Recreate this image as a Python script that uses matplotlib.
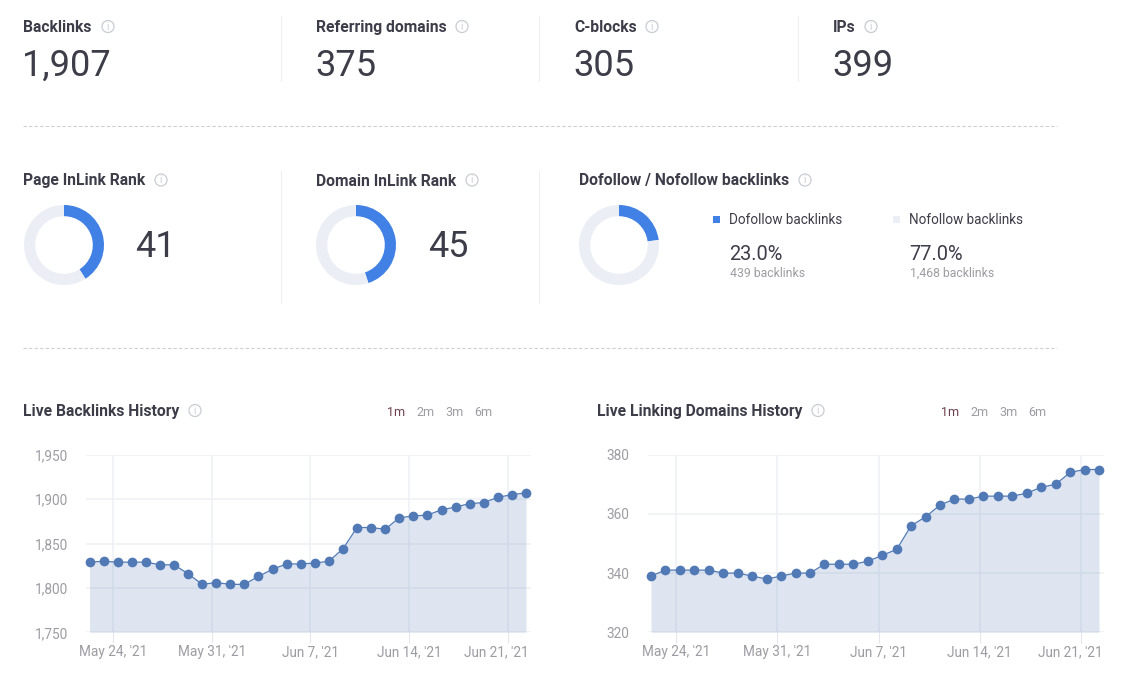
'''dashboard with backlink stats, rank donuts and two history charts
'''
import matplotlib
matplotlib.use('Agg')
import matplotlib.pyplot as plt
from matplotlib.patches import Circle, Rectangle
from matplotlib.ticker import FuncFormatter
from matplotlib.transforms import ScaledTranslation

W, H = 1123, 678
DARK = '#3d3d4a'
GRAY = '#9c9ca3'
ICON = '#c9ccd3'
BLUE = '#4180e4'
PALE = '#ebeef4'
LINE = '#5079b5'
GRID = '#eff0f4'

stat_labels = ['Backlinks', 'Referring domains', 'C-blocks', 'IPs']
stat_values = ['1,907', '375', '305', '399']

page_rank = [41, 59]
domain_rank = [45, 55]
follow_share = [23.0, 77.0]
follow_names = ['Dofollow backlinks', 'Nofollow backlinks']
follow_counts = ['439 backlinks', '1,468 backlinks']

# days counted from May 22, one point a day
days = list(range(32))
tick_days = [2, 9, 16, 23, 30]
tick_labels = ["May 24, '21", "May 31, '21", "Jun 7, '21", "Jun 14, '21", "Jun 21, '21"]
range_labels = ['1m', '2m', '3m', '6m']

backlinks = [1829, 1830, 1829, 1829, 1829, 1826, 1826, 1816, 1804, 1806, 1804,
             1804, 1813, 1821, 1827, 1827, 1828, 1830, 1844, 1868, 1868, 1866,
             1879, 1881, 1882, 1888, 1891, 1895, 1896, 1902, 1905, 1907]
domains = [339, 341, 341, 341, 341, 340, 340, 339, 338, 339, 340, 340, 343, 343,
           343, 344, 346, 348, 356, 359, 363, 365, 365, 366, 366, 366, 367, 369,
           370, 374, 375, 375]
backlinks_ticks = [1750, 1800, 1850, 1900, 1950]
domains_ticks = [320, 340, 360, 380]

plt.rcParams['font.family'] = ['Roboto', 'DejaVu Sans']

fig = plt.figure(figsize=(W / 100, H / 100), dpi=100)
page = fig.add_axes([0, 0, 1, 1])
page.set_xlim(0, W)
page.set_ylim(H, 0)
page.axis('off')


def label(x, y, s, px, color=DARK, weight='normal', ha='left'):
    page.text(x, y, s, fontsize=px * 0.72, color=color, fontweight=weight,
              ha=ha, va='center_baseline')


def title(x, y, s, icon_x):
    label(x, y, s, 15.6, weight='bold')
    page.add_patch(Circle((icon_x, y + 0.5), 6, fc='none', ec=ICON, lw=0.9))
    page.text(icon_x, y + 0.5, 'i', fontsize=7, color=ICON, ha='center', va='center')


def donut(cx, cy, values):
    ax = fig.add_axes([(cx - 40) / W, 1 - (cy + 40) / H, 80 / W, 80 / H])
    ax.pie(values, colors=[BLUE, PALE], startangle=90, counterclock=False, radius=1,
           wedgeprops={'width': 0.28})
    ax.set_xlim(-1, 1)
    ax.set_ylim(-1, 1)


def history(box, values, yticks, x0, x1, tick_shift, range_x):
    left, right, top, bottom = box
    ax = fig.add_axes([left / W, 1 - bottom / H, (right - left) / W, (bottom - top) / H])
    scale = (x1 - x0) / (days[-1] - days[0])
    ax.set_xlim((left - x0) / scale, (right - x0) / scale)
    ax.set_ylim(yticks[0], yticks[-1])
    ax.patch.set_alpha(0)
    for s in ax.spines.values():
        s.set_visible(False)
    ax.fill_between(days, values, yticks[0], color=LINE, alpha=0.19, lw=0, zorder=3)
    ax.plot(days, values, color=LINE, lw=0.9, marker='o', ms=7, mew=0, zorder=4,
            clip_on=False)
    ax.set_yticks(yticks)
    ax.yaxis.set_major_formatter(FuncFormatter(lambda v, p: format(int(v), ',')))
    ax.set_xticks([d - tick_shift for d in tick_days])
    ax.set_xticklabels(tick_labels)
    ax.grid(True, color=GRID, lw=1.1, zorder=1)
    ax.set_axisbelow(True)
    ax.tick_params(axis='y', length=0, pad=13, labelsize=9.8, labelcolor=GRAY)
    ax.tick_params(axis='x', length=8, width=0.8, color='#e3e6ec', pad=1,
                   labelsize=9.8, labelcolor=GRAY)
    # last label is pushed inwards so it stays in the plot area
    last = ax.get_xticklabels()[-1]
    last.set_transform(last.get_transform() + ScaledTranslation(-11 / 100, 0, fig.dpi_scale_trans))
    for s, x in zip(range_labels, range_x):
        label(x, 411, s, 12.5, color='#6d3f4c' if s == '1m' else GRAY)


# top row
for s, v, x, icon_x in zip(stat_labels, stat_values, [23, 316, 574, 833], [108, 462, 652, 871]):
    title(x, 26, s, icon_x)
    label(x - 1, 61.5, v, 36.3)

# dividers
for x, y0, y1 in [(281, 17, 81), (539, 17, 81), (798, 17, 81), (281, 171, 303), (539, 171, 303)]:
    page.plot([x, x], [y0, y1], color='#eeeff2', lw=0.8)
for y in [126, 348]:
    page.plot([23, 1057], [y, y], color='#cfcfd2', lw=0.8, ls=(0, (3, 2)))

# second row
title(23, 179.5, 'Page InLink Rank', 161)
title(316, 179.5, 'Domain InLink Rank', 472)
title(579, 179.5, 'Dofollow / Nofollow backlinks', 805)
donut(64, 245, page_rank)
donut(356, 245, domain_rank)
donut(619, 245, follow_share)
label(135.5, 243, str(page_rank[0]), 36)
label(428.5, 243, str(domain_rank[0]), 36)

for i, x in enumerate([713, 893]):
    page.add_patch(Rectangle((x, 216), 7, 6.5, fc=[BLUE, PALE][i], ec='none'))
    label(x + 16, 219, follow_names[i], 13.5)
    label(x + 16.5, 252.5, '%.1f%%' % follow_share[i], 20)
    label(x + 17, 272, follow_counts[i], 12.3, color=GRAY)

# history charts
title(23, 410, 'Live Backlinks History', 195)
title(597, 410, 'Live Linking Domains History', 818)
history((86, 530.5, 454.7, 632.3), backlinks, backlinks_ticks, 89.5, 526, 0.31, [387, 416, 445, 474])
history((647.7, 1104, 454.7, 632.3), domains, domains_ticks, 651, 1099, 0.25, [941, 970, 999, 1028])

fig.savefig('out.png', dpi=100)
